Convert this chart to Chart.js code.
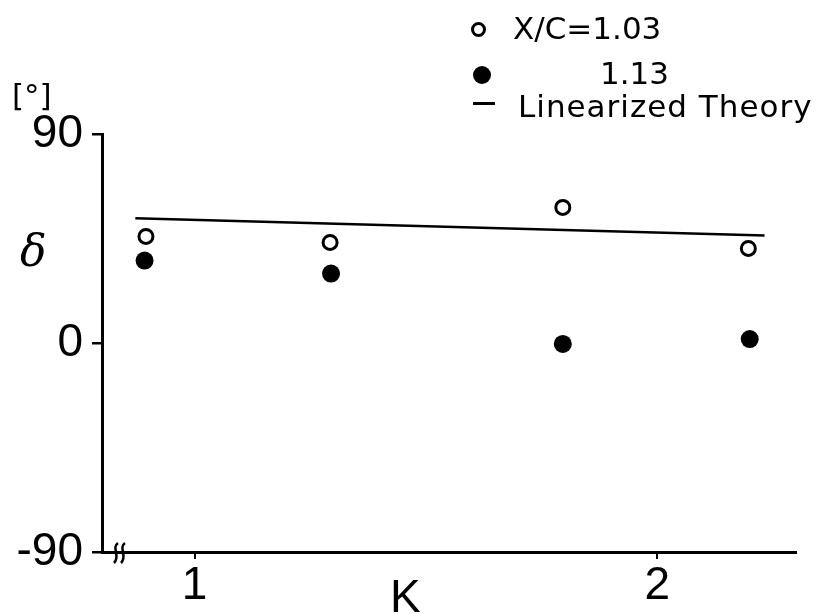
<!DOCTYPE html>
<html>
<head>
<meta charset="utf-8">
<script src="https://cdn.jsdelivr.net/npm/chart.js@4/dist/chart.umd.min.js"></script>
<style>
  html, body { margin: 0; padding: 0; background: #fff; }
  #wrap { position: relative; width: 839px; height: 614px; }
  .lbl { position: absolute; color: #000; white-space: nowrap; line-height: 1; }
  .leg { font-family: "DejaVu Sans", sans-serif; font-size: 31px; }
  .mk { position: absolute; box-sizing: border-box; border-radius: 50%; }
</style>
</head>
<body>
<div id="wrap">
  <canvas id="myChart" width="839" height="614"></canvas>

  <!-- axis labels -->
  <div class="lbl" style="left:12px; top:80px; font-family:'DejaVu Sans',sans-serif; font-size:31px;">[°]</div>
  <div class="lbl" style="left:20px; top:229px; font-family:'DejaVu Serif',serif; font-style:italic; font-size:44px;">δ</div>
  <div class="lbl" style="left:390px; top:573px; font-family:'Liberation Sans',sans-serif; font-size:46px;">K</div>

  <!-- legend -->
  <div class="mk" style="left:471px; top:22px; width:15px; height:15px; border:3px solid #000;"></div>
  <div class="lbl leg" style="left:513px; top:13px;">X/C=1.03</div>
  <div class="mk" style="left:473px; top:66px; width:18px; height:18px; background:#000;"></div>
  <div class="lbl leg" style="left:600px; top:58px;">1.13</div>
  <div style="position:absolute; left:473px; top:102px; width:22px; height:3px; background:#000;"></div>
  <div class="lbl leg" style="left:518px; top:91px; letter-spacing:1px;">Linearized Theory</div>
</div>

<script>
  // values
  const kOpen = [0.895, 1.293, 1.796, 2.197];        // X/C = 1.03
  const deltaOpen = [45.9, 43.3, 58.4, 40.7];
  const kFilled = [0.892, 1.295, 1.796, 2.2];        // X/C = 1.13
  const deltaFilled = [35.5, 29.9, -0.4, 1.7];
  const kTheory = [0.872, 2.232];                    // linearized theory
  const deltaTheory = [53.7, 46.3];
  const xTicks = [1, 2];
  const yTicks = [-90, 0, 90];

  const pts = (xs, ys) => xs.map((x, i) => ({ x: x, y: ys[i] }));

  // little break mark on the K axis
  const breakMark = {
    id: 'breakMark',
    afterDraw(chart) {
      const c = chart.ctx;
      const y = chart.scales.y.getPixelForValue(-90);
      const x0 = chart.chartArea.left;
      c.save();
      c.strokeStyle = '#000';
      c.lineWidth = 2.5;
      [14, 21].forEach(dx => {
        const x = x0 + dx;
        c.beginPath();
        c.moveTo(x + 2, y - 9);
        c.bezierCurveTo(x - 5, y - 4, x + 5, y + 4, x - 2, y + 11);
        c.stroke();
      });
      c.restore();
    }
  };

  const ctx = document.getElementById('myChart').getContext('2d');

  const chart = new Chart(ctx, {
    type: 'scatter',
    data: {
      datasets: [
        {
          label: 'Linearized Theory',
          data: pts(kTheory, deltaTheory),
          showLine: true,
          borderColor: '#000',
          borderWidth: 2.5,
          pointRadius: 0,
          order: 2
        },
        {
          label: 'X/C=1.03',
          data: pts(kOpen, deltaOpen),
          pointRadius: 7,
          pointBorderWidth: 3,
          pointBorderColor: '#000',
          pointBackgroundColor: '#fff',
          order: 1
        },
        {
          label: '1.13',
          data: pts(kFilled, deltaFilled),
          pointRadius: 9,
          pointBorderWidth: 0,
          pointBackgroundColor: '#000',
          order: 1
        }
      ]
    },
    options: {
      responsive: false,
      animation: false,
      layout: { padding: { top: 134, right: 43, left: 0, bottom: 0 } },
      plugins: {
        legend: { display: false },
        tooltip: { enabled: false }
      },
      scales: {
        x: {
          type: 'linear',
          min: 0.8,
          max: 2.3,
          afterBuildTicks: (s) => { s.ticks = xTicks.map(v => ({ value: v })); },
          afterFit: (s) => { s.height = 62; },
          border: { display: true, color: '#000', width: 3 },
          grid: { drawOnChartArea: false, drawTicks: true, tickLength: 7, color: '#000', lineWidth: 2 },
          ticks: {
            color: '#000',
            padding: 0,
            maxRotation: 0,
            font: { family: 'Liberation Sans', size: 46 }
          }
        },
        y: {
          min: -90,
          max: 90,
          afterBuildTicks: (s) => { s.ticks = yTicks.map(v => ({ value: v })); },
          afterFit: (s) => { s.width = 102; },
          border: { display: true, color: '#000', width: 3 },
          grid: { drawOnChartArea: false, drawTicks: true, tickLength: 10, color: '#000', lineWidth: 2.5 },
          ticks: {
            color: '#000',
            padding: 9,
            font: { family: 'Liberation Sans', size: 46 }
          }
        }
      }
    },
    plugins: [breakMark]
  });
</script>
</body>
</html>
